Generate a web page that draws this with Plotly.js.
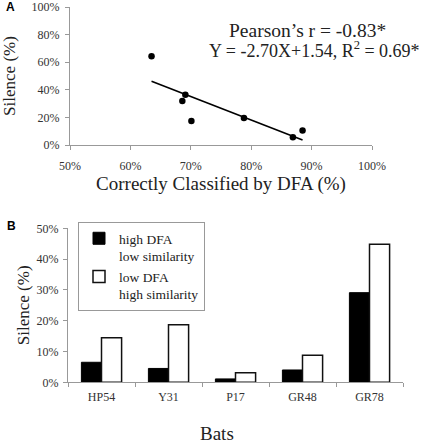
<!DOCTYPE html>
<html>
<head>
<meta charset="utf-8">
<script src="https://cdn.plot.ly/plotly-3.0.1.min.js"></script>
<style>html,body{margin:0;padding:0;background:#fff;}#chart{width:421px;height:444px;}</style>
</head>
<body>
<div id="chart"></div>
<script>
// Panel A: correctly classified by DFA (%) vs silence (%)
const dfaCorrect = [63.5, 69.1, 68.6, 70.1, 78.8, 86.9, 88.5];
const silenceA   = [64.3, 36.4, 31.9, 17.4, 19.5, 5.7, 10.5];

// Panel B: silence per bat
const bats          = ['HP54', 'Y31', 'P17', 'GR48', 'GR78'];
const highDFALowSim = [6.5, 4.5, 1.1, 4.0, 29.1];
const lowDFAHighSim = [14.5, 18.7, 3.1, 8.8, 44.8];

const seriesNames = ['high DFA<br>low similarity', 'low DFA<br>high similarity'];
const statsLine1 = 'Pearson\u2019s r = -0.83*';
const statsLine2 = 'Y = -2.70X+1.54, R<sup>2</sup> = 0.69*';

// least-squares fit line from the data
const n = dfaCorrect.length;
const mx = dfaCorrect.reduce((a, b) => a + b, 0) / n;
const my = silenceA.reduce((a, b) => a + b, 0) / n;
let sxy = 0, sxx = 0;
for (let i = 0; i < n; i++) { sxy += (dfaCorrect[i] - mx) * (silenceA[i] - my); sxx += (dfaCorrect[i] - mx) ** 2; }
const slope = sxy / sxx, icpt = my - slope * mx;
const fitX = [Math.min(...dfaCorrect), Math.max(...dfaCorrect)];
const fitY = fitX.map(x => slope * x + icpt);

const serif = 'Liberation Serif, Times New Roman, serif';
const sans = 'Liberation Sans, Arial, sans-serif';
const tickFont = {family: serif, size: 12, color: '#333'};
const titleFont = {family: serif, size: 19, color: '#222'};
const yTitleFont = {family: serif, size: 17, color: '#222'};

const traces = [
  {x: fitX, y: fitY, type: 'scatter', mode: 'lines', line: {color: '#000', width: 1.6},
   xaxis: 'x', yaxis: 'y', showlegend: false, hoverinfo: 'skip'},
  {x: dfaCorrect, y: silenceA, type: 'scatter', mode: 'markers',
   marker: {color: '#000', size: 6.5}, xaxis: 'x', yaxis: 'y', showlegend: false},
  {x: bats, y: highDFALowSim, type: 'bar', name: seriesNames[0],
   marker: {color: '#000', line: {color: '#000', width: 1}}, xaxis: 'x2', yaxis: 'y2'},
  {x: bats, y: lowDFAHighSim, type: 'bar', name: seriesNames[1],
   marker: {color: '#fff', line: {color: '#111', width: 1.5}}, xaxis: 'x2', yaxis: 'y2'}
];

const axisCommon = {showline: true, linecolor: '#999', linewidth: 1, ticks: 'outside', ticklen: 4,
  tickcolor: '#999', showgrid: false, zeroline: false, tickfont: tickFont, ticklabeloverflow: 'allow'};

const layout = {
  width: 421, height: 444,
  margin: {l: 0, r: 0, t: 0, b: 0},
  paper_bgcolor: '#fff', plot_bgcolor: '#fff',
  showlegend: true,
  barmode: 'group', bargap: 0.4, bargroupgap: 0,
  xaxis: Object.assign({}, axisCommon, {domain: [70/421, 372/421], range: [50, 100], dtick: 10,
    ticksuffix: '%', anchor: 'y', ticklabelstandoff: 6,
    title: {text: 'Correctly Classified by DFA (%)', font: titleFont, standoff: 4}}),
  yaxis: Object.assign({}, axisCommon, {domain: [1 - 145/444, 1 - 7/444], range: [0, 100], dtick: 20,
    ticksuffix: '%', anchor: 'x', ticklabelstandoff: 3,
    title: {text: 'Silence (%)', font: yTitleFont, standoff: 14}}),
  xaxis2: Object.assign({}, axisCommon, {domain: [68/421, 403/421], type: 'category',
    tickson: 'boundaries', anchor: 'y2', ticklabelstandoff: 3}),
  yaxis2: Object.assign({}, axisCommon, {domain: [1 - 382.3/444, 1 - 228.3/444], range: [0, 50], dtick: 10,
    ticksuffix: '%', anchor: 'x2', ticklabelstandoff: 2,
    title: {text: 'Silence (%)', font: yTitleFont, standoff: 2}}),
  legend: {x: 78/421, y: 1 - 222/444, xanchor: 'left', yanchor: 'top', bgcolor: '#fff',
    bordercolor: '#999', borderwidth: 1, valign: 'top', itemwidth: 30,
    font: {family: serif, size: 13.5, color: '#222'}, traceorder: 'normal'},
  annotations: [
    {text: statsLine1, xref: 'paper', yref: 'paper', x: 307/421, y: 1 - 31/444, xanchor: 'center', yanchor: 'middle',
     showarrow: false, font: {family: serif, size: 19.5, color: '#222'}},
    {text: statsLine2, xref: 'paper', yref: 'paper', x: 314/421, y: 1 - 49.5/444, xanchor: 'center', yanchor: 'middle',
     showarrow: false, font: {family: serif, size: 18, color: '#222'}},
    {text: '<b>A</b>', xref: 'paper', yref: 'paper', x: 10/421, y: 1 - 7/444, xanchor: 'center', yanchor: 'middle',
     showarrow: false, font: {family: sans, size: 12, color: '#000'}},
    {text: '<b>B</b>', xref: 'paper', yref: 'paper', x: 11/421, y: 1 - 226/444, xanchor: 'center', yanchor: 'middle',
     showarrow: false, font: {family: sans, size: 12, color: '#000'}},
    {text: 'Bats', xref: 'paper', yref: 'paper', x: 217/421, y: 1 - 433/444, xanchor: 'center', yanchor: 'middle',
     showarrow: false, font: titleFont}
  ]
};

Plotly.newPlot('chart', traces, layout, {displayModeBar: false, staticPlot: true});
</script>
</body>
</html>
